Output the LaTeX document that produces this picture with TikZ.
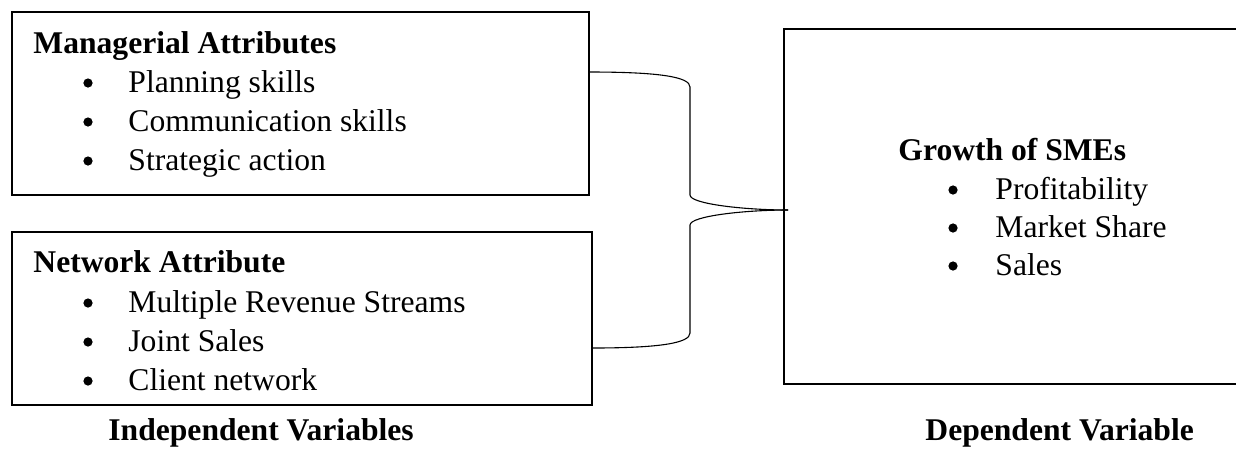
\documentclass[tikz,border=0pt]{standalone}
\usepackage{fontspec}
\setmainfont{Liberation Serif}
\begin{document}
\begin{tikzpicture}[x=0.4556pt,y=-0.4556pt,
  box/.style={draw, line width=1.1pt, inner sep=0, outer sep=0, rectangle, anchor=north west},
  title/.style={anchor=base west, font=\bfseries\fontsize{14.4}{17}\selectfont, inner sep=0},
  item/.style={anchor=base west, font=\fontsize{14.4}{17}\selectfont, inner sep=0},
  bul/.style={circle, fill, inner sep=0, minimum size=4.2pt},
  brace/.style={draw, line width=0.5pt}]
\useasboundingbox (0,0) rectangle (1236,451);
% boxes
\node[box, minimum width=577*0.4556pt, minimum height=183*0.4556pt] (man) at (12,12) {};
\node[box, minimum width=580*0.4556pt, minimum height=173*0.4556pt] (net) at (12,232) {};
\node[box, minimum width=480*0.4556pt, minimum height=355*0.4556pt] (gro) at (784,29) {};
% managerial
\node[title] (t1) at (33,53) {Managerial Attributes};
\node[bul] (b11) at (88,83) {}; \node[item] (i11) at (128,92) {Planning skills};
\node[bul] (b12) at (88,122) {}; \node[item] (i12) at (128,131) {Communication skills};
\node[bul] (b13) at (88,161) {}; \node[item] (i13) at (128,170) {Strategic action};
% network
\node[title] (t2) at (33,272) {Network Attribute};
\node[bul] (b21) at (88,303) {}; \node[item] (i21) at (128,312) {Multiple Revenue Streams};
\node[bul] (b22) at (88,342) {}; \node[item] (i22) at (128,351) {Joint Sales};
\node[bul] (b23) at (88,381) {}; \node[item] (i23) at (128,390) {Client network};
% growth
\node[title] (t3) at (898,160) {Growth of SMEs};
\node[bul] (b31) at (953,190) {}; \node[item] (i31) at (995,199) {Profitability};
\node[bul] (b32) at (953,228) {}; \node[item] (i32) at (995,237) {Market Share};
\node[bul] (b33) at (953,266) {}; \node[item] (i33) at (995,275) {Sales};
% captions
\node[title] (c1) at (108,440) {Independent Variables};
\node[title] (c2) at (925,440) {Dependent Variable};
% brace
\coordinate (s1) at (man.east |- 0,72);
\coordinate (s2) at (net.east |- 0,348);
\coordinate (tip) at (788,210);
\draw[brace] (s1) .. controls (660,72) and (690,77) .. (690,87) -- (690,195)
  .. controls (690,204) and (745,210) .. (tip);
\draw[brace] (s2) .. controls (660,348) and (690,343) .. (690,333) -- (690,225)
  .. controls (690,216) and (745,210) .. (tip);
\end{tikzpicture}
\end{document}
